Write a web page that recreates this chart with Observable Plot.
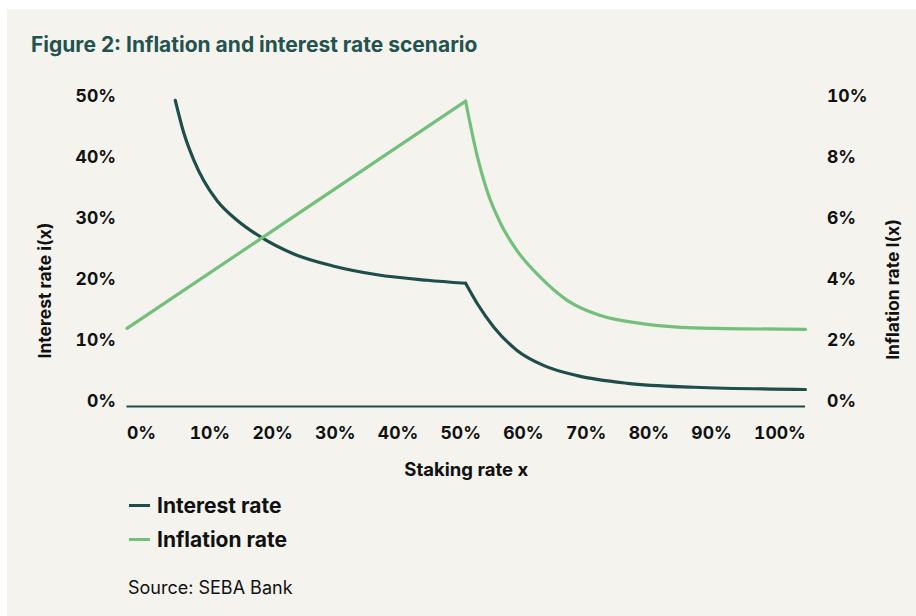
<!DOCTYPE html>
<html><head><meta charset="utf-8">
<script src="https://cdn.jsdelivr.net/npm/d3@7"></script>
<script src="https://cdn.jsdelivr.net/npm/@observablehq/plot@0.6"></script>
<style>
body{margin:0;background:#fff;width:916px;height:616px;overflow:hidden;position:relative;font-family:Inter, "DejaVu Sans", sans-serif}
#panel{position:absolute;left:7px;top:9px;width:909px;height:607px;background:#f4f3ee}
#title{position:absolute;left:31px;top:32px;font-size:21px;font-weight:700;color:#24524e;line-height:26px;white-space:nowrap}
#chart{position:absolute;left:0;top:80px}
#legend{position:absolute;left:129px;top:488px}
.item{display:flex;align-items:center;height:34px;font-weight:700;font-size:21px;color:#111}
.sw{width:21px;height:3px;margin-right:7px}
#source{position:absolute;left:128px;top:576px;font-size:18px;color:#111;line-height:24px}
</style>
</head><body>
<div id="panel"></div>
<div id="title">Figure 2: Inflation and interest rate scenario</div>
<div id="chart"></div>
<div id="legend"></div>
<div id="source">Source: SEBA Bank</div>
<script>
// ---- data ----
const seriesNames = ["Interest rate", "Inflation rate"];
const seriesColors = ["#1f4d4a", "#74bf7b"];
const kinkX = 54.0;
const interestX = [7.7, 9.1, 10.65, 12.25, 14.4, 17.6, 21.3, 26.6, 33.0, 39.9, 47.9, 54.0, 55.9, 58.5, 62.2, 66.5, 71.8, 79.8, 90.4, 108.2];
const interestY = [50.2, 44.7, 40.4, 37.0, 33.7, 30.5, 27.8, 25.0, 23.0, 21.6, 20.7, 20.2, 16.8, 13.0, 9.2, 6.7, 5.06, 3.8, 3.16, 2.79];
const inflationX = [0, 54.0, 55.9, 57.4, 59.6, 62.2, 65.9, 70.2, 75.5, 82.4, 90.4, 108.2];
const inflationY = [2.56, 10.01, 8.17, 7.08, 5.99, 5.11, 4.24, 3.48, 2.98, 2.71, 2.58, 2.53];
const xTicks = [0, 10, 20, 30, 40, 50, 60, 70, 80, 90, 100];
const leftTicks = [0, 10, 20, 30, 40, 50];
const rightTicks = [0, 2, 4, 6, 8, 10];
const xLabel = "Staking rate x";
const leftLabel = "Interest rate i(x)";
const rightLabel = "Inflation rate I(x)";

// ---- build tables: split each series at the kink so it stays sharp ----
function rows(xs, ys) {
  const out = [];
  xs.forEach((x, i) => {
    if (x <= kinkX) out.push({x, y: ys[i], part: "a"});
    if (x >= kinkX) out.push({x, y: ys[i], part: "b"});
  });
  return out;
}
const interestRows = rows(interestX, interestY);
const inflationRows = rows(inflationX, inflationY);
const k = leftTicks[leftTicks.length - 1] / rightTicks[rightTicks.length - 1];

const teal = seriesColors[0], green = seriesColors[1];
const chart = Plot.plot({
  width: 916, height: 400,
  marginLeft: 126.5, marginRight: 111, marginTop: 21, marginBottom: 74,
  style: {background: "transparent", fontFamily: "Inter, sans-serif", fontSize: "17.5px", color: "#111", overflow: "visible"},
  x: {domain: [0, 108.2]},
  y: {domain: [0, 50]},
  marks: [
    Plot.ruleY([0], {stroke: teal, strokeWidth: 1.8}),
    Plot.axisY(leftTicks, {anchor: "left", tickSize: 0, tickPadding: 11, dy: -5, tickFormat: d => d + "%", fontWeight: 700, fill: "#111", label: null}),
    Plot.axisY(rightTicks.map(t => t * k), {anchor: "right", tickSize: 0, tickPadding: 21.5, dy: -5, tickFormat: d => (d / k) + "%", fontWeight: 700, fill: "#111", label: null}),
    Plot.axisX(xTicks, {anchor: "bottom", tickSize: 0, tickPadding: 20, textAnchor: "start", tickFormat: d => d + "%", fontWeight: 700, fill: "#111", label: null}),
    Plot.line(interestRows, {x: "x", y: "y", z: "part", stroke: teal, strokeWidth: 3.2, curve: "monotone-x"}),
    Plot.line(inflationRows, {x: "x", y: d => d.y * k, z: "part", stroke: green, strokeWidth: 3.2, curve: "monotone-x"}),
    Plot.text([leftLabel], {frameAnchor: "left", textAnchor: "middle", lineAnchor: "middle", rotate: -90, dx: -81.5, dy: 36.5, fontWeight: 700, fontSize: 17.5, fill: "#111"}),
    Plot.text([rightLabel], {frameAnchor: "right", textAnchor: "middle", lineAnchor: "middle", rotate: -90, dx: 88, dy: 35.5, fontWeight: 700, fontSize: 17.5, fill: "#111"}),
    Plot.text([xLabel], {frameAnchor: "bottom", textAnchor: "middle", lineAnchor: "middle", dy: 64, fontWeight: 700, fontSize: 18.5, fill: "#111"})
  ]
});
document.getElementById("chart").appendChild(chart);

const legend = document.getElementById("legend");
seriesNames.forEach((n, i) => {
  const d = document.createElement("div");
  d.className = "item";
  d.innerHTML = `<span class="sw" style="background:${seriesColors[i]}"></span><span>${n}</span>`;
  legend.appendChild(d);
});
</script>
</body></html>
